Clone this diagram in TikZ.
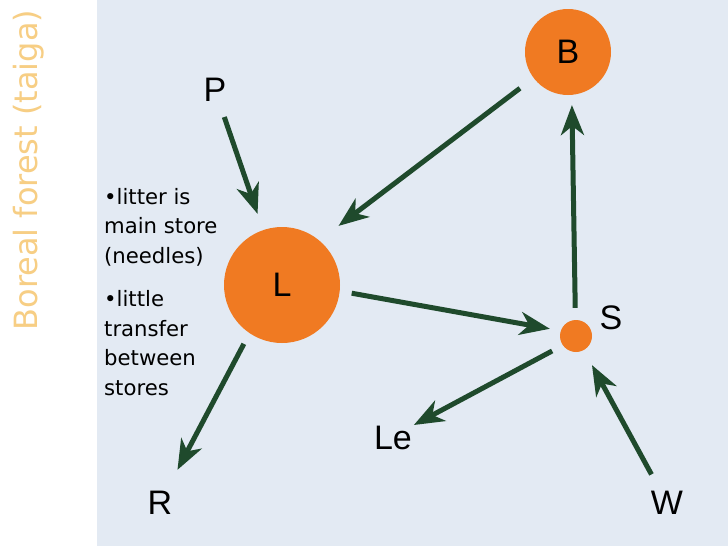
\documentclass[tikz,border=0pt]{standalone}
\usepackage{fontspec}
\setmainfont{Liberation Sans}
\newfontfamily\notefont{DejaVu Sans}
\usepackage{tikz}
\usetikzlibrary{positioning, arrows.meta}
\definecolor{cBack}  {HTML}{E3EAF3}
\definecolor{cStore} {HTML}{F07A22}
\definecolor{cFlux}  {HTML}{1F4A2C}
\definecolor{cTitle} {HTML}{F7CE84}

\begin{document}
\begin{tikzpicture}[x=1pt, y=1pt,
    store/.style={circle, fill=cStore, inner sep=0pt,
                  font=\fontsize{34}{34}\selectfont},
    lbl/.style={inner sep=0pt, font=\fontsize{34}{34}\selectfont},
    flux/.style={draw=cFlux, line width=5pt,
                 -{Stealth[length=30pt, width=23pt, inset=9pt]}},
  ]
  \useasboundingbox (0,0) rectangle (728,-546);
  \fill[white] (0,0) rectangle (97,-546);
  \fill[cBack] (97,0) rectangle (728,-546);

  % side title
  \node[rotate=90, anchor=base, inner sep=0pt, text=cTitle,
        font=\notefont\fontsize{32}{32}\selectfont] (title) at (37,-170)
       {Boreal forest (taiga)};

  % stores
  \node[store, minimum size=86pt]  (B) at (568,-52)  {B};
  \node[store, minimum size=116pt] (L) at (282,-285) {L};
  \node[store, minimum size=32pt]  (S) at (576,-336) {};

  % labels
  \node[lbl] (P)  at (215,-90)  {P};
  \node[lbl] (Le) at (393,-438) {Le};
  \node[lbl] (R)  at (160,-503) {R};
  \node[lbl] (W)  at (667,-503) {W};
  \node[lbl] (Slbl) at (611,-318) {S};

  \node[anchor=base west, inner sep=0pt, align=left,
        font=\notefont\fontsize{21.2}{29.5}\selectfont] (notes) at (104,-395)
       {•litter is\\ main store\\ (needles)\\[14pt]
        •little\\ transfer\\ between\\ stores};

  % fluxes
  \draw[flux, shorten <=16pt, shorten >=17pt] (P) -- (L);
  \draw[flux, shorten <=17pt, shorten >=24pt] (B.217) -- (L.50);
  \draw[flux, shorten <=12pt, shorten >=11pt] (L.-6) -- (S.161);
  \draw[flux, shorten <=12pt, shorten >=10pt] (S.92) -- (B.-85);
  \draw[flux, shorten <=12pt, shorten >=2pt] (S.215) -- (Le.north east);
  \draw[flux, shorten <=12pt, shorten >=24pt] (L.236) -- (R);
  \draw[flux, shorten <=19pt, shorten >=17pt] (W) -- (S.-61);
\end{tikzpicture}
\end{document}
